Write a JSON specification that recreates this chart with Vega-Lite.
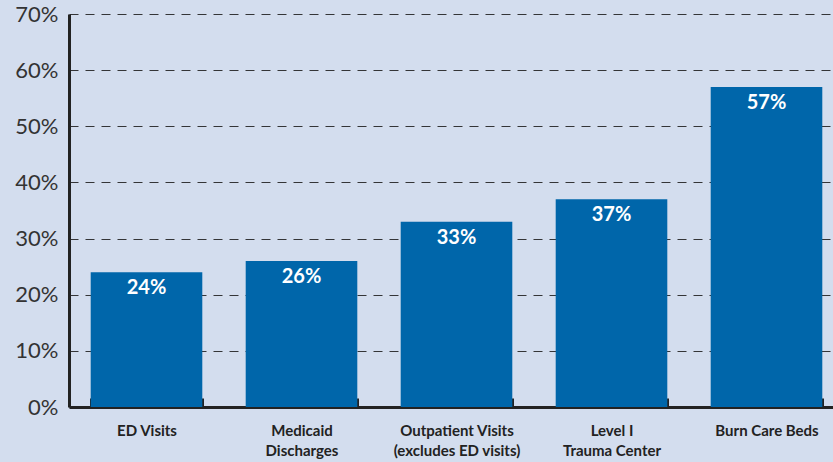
{
  "$schema": "https://vega.github.io/schema/vega-lite/v6.json",
  "width": 775,
  "height": 393,
  "autosize": {"type": "none"},
  "padding": {"left": 69, "top": 14, "right": 0, "bottom": 55},
  "background": "#d3ddee",
  "config": {
    "view": {"stroke": null},
    "font": "Lato"
  },
  "data": {
    "values": [
      {"category": "ED Visits", "value": 24, "label": "24%"},
      {"category": "Medicaid|Discharges", "value": 26, "label": "26%"},
      {"category": "Outpatient Visits|(excludes ED visits)", "value": 33, "label": "33%"},
      {"category": "Level I|Trauma Center", "value": 37, "label": "37%"},
      {"category": "Burn Care Beds", "value": 57, "label": "57%"}
    ]
  },
  "encoding": {
    "x": {
      "field": "category",
      "type": "nominal",
      "sort": null,
      "scale": {"paddingInner": 0.28, "paddingOuter": 0.14},
      "axis": {
        "title": null,
        "labelAngle": 0,
        "labelExpr": "split(datum.label, '|')",
        "labelFont": "Lato",
        "labelFontWeight": "bold",
        "labelFontSize": 15,
        "labelColor": "#222222",
        "labelPadding": 25,
        "labelLineHeight": 20,
        "domainColor": "#222222",
        "domainWidth": 3,
        "tickColor": "#222222",
        "tickWidth": 3,
        "tickSize": -9,
        "tickBand": "extent",
        "grid": false
      }
    },
    "y": {
      "field": "value",
      "type": "quantitative",
      "scale": {"domain": [0, 70], "nice": false},
      "axis": {
        "title": null,
        "values": [0, 10, 20, 30, 40, 50, 60, 70],
        "labelExpr": "datum.value + '%'",
        "labelFont": "Lato",
        "labelFontSize": 22,
        "labelColor": "#333333",
        "labelPadding": 11,
        "ticks": false,
        "domainColor": "#222222",
        "domainWidth": 3,
        "grid": true,
        "gridColor": "#222222",
        "gridDash": [9, 7],
        "gridWidth": 1,
        "gridOpacity": 0.9
      }
    }
  },
  "layer": [
    {"mark": {"type": "bar", "color": "#0066aa"}},
    {
      "mark": {
        "type": "text",
        "color": "white",
        "fontWeight": "bold",
        "fontSize": 20,
        "baseline": "middle",
        "dy": 16,
        "font": "Lato"
      },
      "encoding": {"text": {"field": "label", "type": "nominal"}}
    }
  ]
}
